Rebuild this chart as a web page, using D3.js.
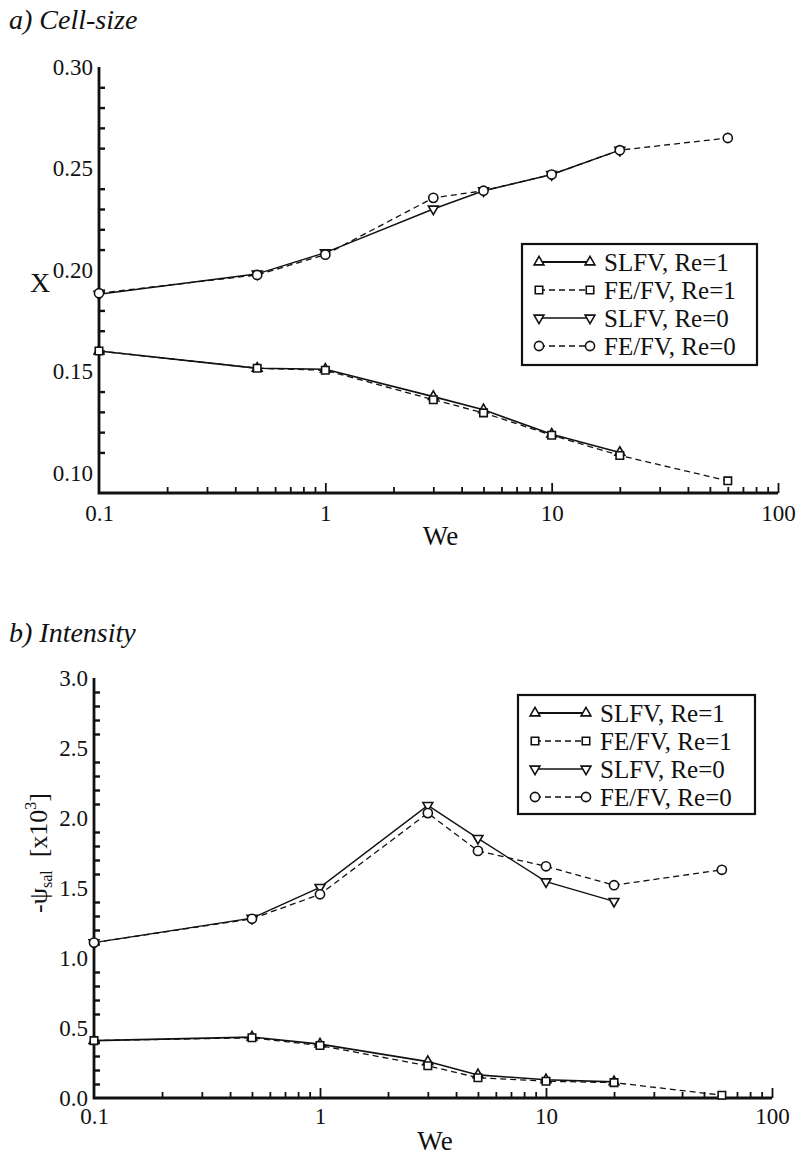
<!DOCTYPE html>
<html>
<head>
<meta charset="utf-8">
<script src="https://cdn.jsdelivr.net/npm/d3@7"></script>
<style>
body { margin: 0; background: #fff; }
svg { display: block; }
text { font-family: "Liberation Serif", "Times New Roman", Times, "DejaVu Serif", serif; fill: #111; }
</style>
</head>
<body>
<svg id="fig" width="796" height="1164"></svg>
<script>
// Weissenberg numbers
var we = [0.1, 0.5, 1, 3, 5, 10, 20];
var weLong = [0.1, 0.5, 1, 3, 5, 10, 20, 60];

// a) cell-size X
var cellSlfvRe1 = [0.160, 0.1515, 0.151, 0.1375, 0.131, 0.119, 0.110];
var cellFefvRe1 = [0.160, 0.1515, 0.1505, 0.136, 0.1295, 0.1185, 0.1085, 0.096];
var cellSlfvRe0 = [0.188, 0.198, 0.2085, 0.230, 0.239, 0.247, 0.259];
var cellFefvRe0 = [0.1885, 0.1975, 0.2075, 0.2355, 0.239, 0.247, 0.259, 0.265];

// b) intensity -psi_sal x10^3
var intSlfvRe1 = [0.41, 0.435, 0.385, 0.26, 0.165, 0.13, 0.115];
var intFefvRe1 = [0.41, 0.43, 0.375, 0.23, 0.145, 0.12, 0.11, 0.02];
var intSlfvRe0 = [1.11, 1.285, 1.505, 2.09, 1.855, 1.545, 1.405];
var intFefvRe0 = [1.11, 1.28, 1.455, 2.035, 1.765, 1.655, 1.52, 1.63];

var legendLabels = ["SLFV, Re=1", "FE/FV, Re=1", "SLFV, Re=0", "FE/FV, Re=0"];
var xTicks = [0.1, 1, 10, 100];
var cellTicks = [0.10, 0.15, 0.20, 0.25, 0.30];
var intTicks = [0, 0.5, 1, 1.5, 2, 2.5, 3];

var svg = d3.select("#fig");
var ink = "#111";

// marker per series: triangle up, square, triangle down, circle
var markers = [
  {type: d3.symbolTriangle, size: 42, rot: 0, dash: null, lw: 1.6},
  {type: d3.symbolSquare, size: 56, rot: 0, dash: "6,4", lw: 1.3},
  {type: d3.symbolTriangle, size: 42, rot: 180, dash: null, lw: 1.4},
  {type: d3.symbolCircle, size: 66, rot: 0, dash: "6,4", lw: 1.3}
];

function drawMarker(g, m, x, y) {
  g.append("path")
    .attr("d", d3.symbol().type(m.type).size(m.size)())
    .attr("transform", "translate(" + x + "," + y + ") rotate(" + m.rot + ")")
    .attr("fill", "#fff")
    .attr("stroke", ink)
    .attr("stroke-width", 1.6);
}

function panel(o) {
  var x = d3.scaleLog().domain([0.1, 100]).range([o.left, o.right]);
  var y = d3.scaleLinear().domain(o.yDomain).range([o.bottom, o.top]);
  var g = svg.append("g");

  // title
  g.append("text").attr("x", 9).attr("y", o.titleY)
    .attr("font-size", 28).attr("font-style", "italic").text(o.title);

  // minor x ticks (inward)
  var xMinor = [];
  [0.1, 1, 10].forEach(function (d) {
    for (var k = 2; k <= 9; k++) xMinor.push(d * k);
  });
  g.append("g").attr("transform", "translate(0," + o.bottom + ")")
    .call(d3.axisBottom(x).tickValues(xMinor).tickSizeInner(-6).tickSizeOuter(0).tickFormat(""))
    .call(function (s) { s.select(".domain").remove(); s.selectAll("line").attr("stroke", ink).attr("stroke-width", 1.8); });
  g.append("g").attr("transform", "translate(0," + o.bottom + ")")
    .call(d3.axisBottom(x).tickValues([1, 10, 100]).tickSizeInner(-10).tickSizeOuter(0).tickFormat(""))
    .call(function (s) { s.select(".domain").remove(); s.selectAll("line").attr("stroke", ink).attr("stroke-width", 1.8); });
  // x labels
  g.append("g").attr("transform", "translate(0," + o.bottom + ")")
    .call(d3.axisBottom(x).tickValues(xTicks).tickSize(0).tickPadding(o.xPad).tickFormat(function (d) { return String(d); }))
    .call(function (s) {
      s.select(".domain").remove();
      s.selectAll("text").attr("font-size", 23).attr("fill", ink);
    });

  // minor y ticks (inward)
  g.append("g").attr("transform", "translate(" + o.left + ",0)")
    .call(d3.axisLeft(y).tickValues(o.yMinor).tickSizeInner(-6).tickSizeOuter(0).tickFormat(""))
    .call(function (s) { s.select(".domain").remove(); s.selectAll("line").attr("stroke", ink).attr("stroke-width", 2.4); });
  g.append("g").attr("transform", "translate(" + o.left + ",0)")
    .call(d3.axisLeft(y).tickValues(o.yTicks).tickSize(0).tickPadding(6).tickFormat(d3.format(o.yFmt)))
    .call(function (s) {
      s.select(".domain").remove();
      s.selectAll("text").attr("font-size", 23).attr("fill", ink);
    });

  // axis lines
  g.append("path")
    .attr("d", "M" + o.left + "," + o.top + "V" + o.bottom + "H" + o.right)
    .attr("fill", "none").attr("stroke", ink).attr("stroke-width", 2.8);

  // axis titles
  g.append("text").attr("x", (o.left + o.right) / 2 + 2).attr("y", o.bottom + 52)
    .attr("text-anchor", "middle").attr("font-size", 27).text("We");
  o.yTitle(g);

  // series
  var line = d3.line().x(function (d) { return x(d[0]); }).y(function (d) { return y(d[1]); });
  o.series.forEach(function (vals, i) {
    var m = markers[i];
    var xs = vals.length === weLong.length ? weLong : we;
    var pts = vals.map(function (v, j) { return [xs[j], v]; });
    g.append("path").datum(pts).attr("d", line)
      .attr("fill", "none").attr("stroke", ink).attr("stroke-width", m.lw)
      .attr("stroke-dasharray", m.dash);
    pts.forEach(function (p) { drawMarker(g, m, x(p[0]), y(p[1])); });
  });

  // legend
  var L = o.legend;
  g.append("rect").attr("x", L.x).attr("y", L.y).attr("width", L.w).attr("height", L.h)
    .attr("fill", "#fff").attr("stroke", ink).attr("stroke-width", 2.2);
  legendLabels.forEach(function (lab, i) {
    var m = markers[i];
    var ry = L.y + 18 + i * 28;
    g.append("line").attr("x1", L.x + 17).attr("x2", L.x + 68).attr("y1", ry).attr("y2", ry)
      .attr("stroke", ink).attr("stroke-width", m.lw + 0.3).attr("stroke-dasharray", m.dash);
    drawMarker(g, m, L.x + 17, ry);
    drawMarker(g, m, L.x + 68, ry);
    g.append("text").attr("x", L.x + 82).attr("y", ry + 9).attr("font-size", 25).text(lab);
  });
}

panel({
  left: 99, right: 778, top: 67, bottom: 493,
  yDomain: [0.09, 0.30],
  yTicks: cellTicks,
  yMinor: d3.range(11, 30).filter(function (i) { return i % 5 !== 0; }).map(function (i) { return i / 100; }),
  yFmt: ".2f",
  xPad: 12,
  title: "a) Cell-size", titleY: 29,
  yTitle: function (g) {
    g.append("text").attr("x", 40).attr("y", 292).attr("text-anchor", "middle")
      .attr("font-size", 28).text("X");
  },
  series: [cellSlfvRe1, cellFefvRe1, cellSlfvRe0, cellFefvRe0],
  legend: {x: 522, y: 244, w: 235, h: 121}
});

panel({
  left: 94, right: 772, top: 678, bottom: 1098,
  yDomain: [0, 3],
  yTicks: intTicks,
  yMinor: d3.range(1, 30).filter(function (i) { return i % 5 !== 0; }).map(function (i) { return i / 10; }),
  yFmt: ".1f",
  xPad: 10,
  title: "b) Intensity", titleY: 642,
  yTitle: function (g) {
    var t = g.append("text").attr("transform", "translate(47,853) rotate(-90)")
      .attr("text-anchor", "middle").attr("font-size", 26);
    t.append("tspan").text("-\u03C8");
    t.append("tspan").attr("font-size", 16).attr("dy", 5).text("sal");
    t.append("tspan").attr("dy", -5).text("\u2002[x10");
    t.append("tspan").attr("font-size", 16).attr("dy", -11).text("3");
    t.append("tspan").attr("dy", 11).text("]");
  },
  series: [intSlfvRe1, intFefvRe1, intSlfvRe0, intFefvRe0],
  legend: {x: 518, y: 695, w: 237, h: 119}
});
</script>
</body>
</html>
